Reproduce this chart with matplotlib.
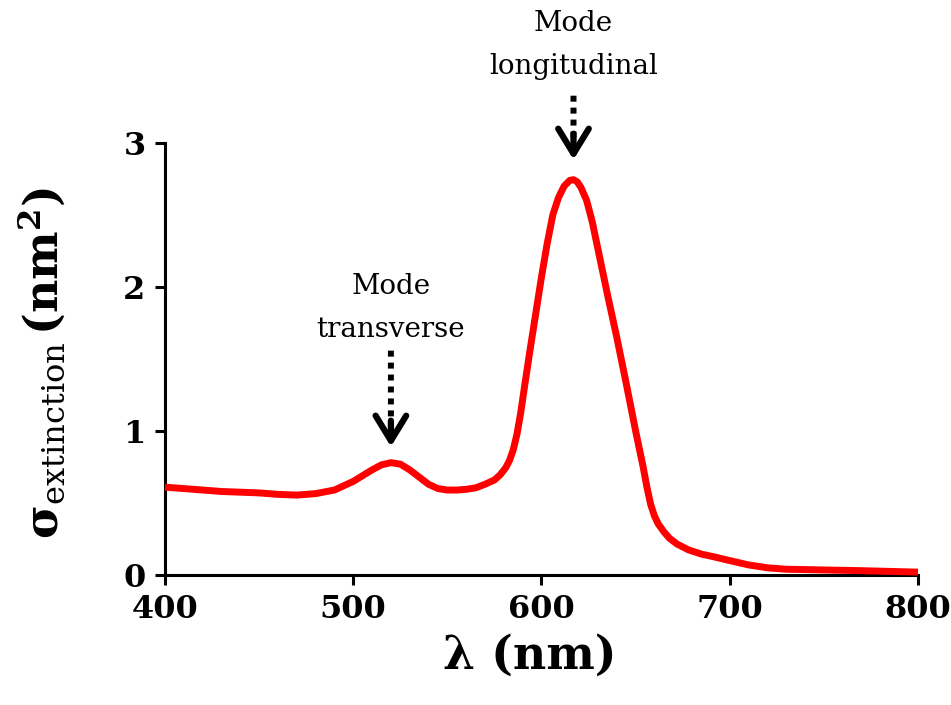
import numpy as np
import matplotlib
matplotlib.use("Agg")
import matplotlib.pyplot as plt
from matplotlib.transforms import offset_copy

# Data
wavelength = [400, 410, 420, 430, 440, 450, 460, 470, 480, 490, 500, 505, 510, 515,
              520, 525, 530, 535, 540, 545, 550, 555, 560, 565, 570, 575, 578, 581,
              583, 585, 587, 589, 591, 594, 597, 600, 603, 606, 609, 612, 615, 617,
              619, 621, 624, 627, 631, 635, 640, 645, 650, 654, 656, 658, 660, 662,
              665, 668, 672, 678, 685, 692, 700, 710, 720, 730, 750, 770, 800]
sigma_ext = [0.61, 0.60, 0.59, 0.58, 0.575, 0.57, 0.56, 0.555, 0.565, 0.59, 0.65, 0.69,
             0.73, 0.765, 0.78, 0.77, 0.73, 0.68, 0.63, 0.60, 0.59, 0.59, 0.595, 0.605,
             0.63, 0.66, 0.695, 0.745, 0.795, 0.87, 0.98, 1.13, 1.31, 1.57, 1.82, 2.07,
             2.30, 2.50, 2.62, 2.70, 2.74, 2.745, 2.73, 2.69, 2.60, 2.45, 2.20, 1.95,
             1.65, 1.33, 1.00, 0.75, 0.61, 0.49, 0.41, 0.355, 0.30, 0.255, 0.215, 0.175,
             0.145, 0.125, 0.10, 0.07, 0.05, 0.04, 0.035, 0.03, 0.02]
x_ticks = [400, 500, 600, 700, 800]
y_ticks = [0, 1, 2, 3]
annot_labels = ["Mode\ntransverse", "Mode\nlongitudinal"]

plt.rcParams['font.family'] = ['DejaVu Serif']
plt.rcParams['mathtext.fontset'] = 'dejavuserif'

fig = plt.figure(figsize=(9.51, 7.05), dpi=100)
ax = fig.add_axes([0.1735, 0.1844, 0.7918, 0.6128])

ax.plot(wavelength, sigma_ext, color='#ff0000', lw=5, solid_capstyle='butt',
        solid_joinstyle='round', clip_on=False, zorder=3)

ax.set_xlim(400, 800)
ax.set_ylim(0, 3)
ax.set_xticks(x_ticks)
ax.set_yticks(y_ticks)
for s in ['top', 'right']:
    ax.spines[s].set_visible(False)
for s in ['left', 'bottom']:
    ax.spines[s].set_linewidth(2.2)
ax.tick_params(direction='out', length=7, width=2.2, labelsize=23, pad=7)
for lab in ax.get_xticklabels() + ax.get_yticklabels():
    lab.set_fontweight('bold')

ax.set_xlabel('λ (nm)', fontsize=33, fontweight='bold')
ax.xaxis.set_label_coords(0.485, -0.133)
ax.set_ylabel(r'$\mathbf{\sigma}_{\mathrm{extinction}}\,\mathbf{(nm^2)}$', fontsize=33)
ax.yaxis.set_label_coords(-0.129, 0.49)

# Annotations at the two peaks
wl = np.array(wavelength)
sg = np.array(sigma_ext)
m1 = (wl > 500) & (wl < 560)
i1 = np.argmax(np.where(m1, sg, -1))
i2 = np.argmax(sg)
peaks = [(wl[i1], sg[i1]), (wl[i2], sg[i2])]
# pixel offsets above each peak: (tip, chevron top, dotted top, text bottom)
offsets = [(16, 42, 112, 120), (20, 46, 84, 100)]

for (px, py), txt, (tip, chev, dtop, tbot) in zip(peaks, annot_labels, offsets):
    ax.annotate(txt, xy=(px, py), xytext=(0, tbot), textcoords='offset pixels',
                ha='center', va='bottom', fontsize=20, linespacing=1.75,
                annotation_clip=False)
    # dotted shaft
    t_lo = offset_copy(ax.transData, fig=fig, x=0, y=chev - 6, units='dots')
    t_hi = offset_copy(ax.transData, fig=fig, x=0, y=dtop, units='dots')
    ax.annotate('', xy=(px, py), xycoords=t_lo, xytext=(px, py), textcoords=t_hi,
                arrowprops=dict(arrowstyle='-', linestyle=(0, (1, 1)), lw=4.3,
                                color='black', shrinkA=0, shrinkB=0,
                                capstyle='butt'),
                annotation_clip=False)
    # chevron head
    t_tip = offset_copy(ax.transData, fig=fig, x=0, y=tip, units='dots')
    t_top = offset_copy(ax.transData, fig=fig, x=0, y=chev, units='dots')
    ax.annotate('', xy=(px, py), xycoords=t_tip, xytext=(px, py), textcoords=t_top,
                arrowprops=dict(arrowstyle='->,head_length=0.9,head_width=0.55',
                                lw=4.5, color='black', shrinkA=0, shrinkB=0,
                                mutation_scale=20),
                annotation_clip=False)

fig.savefig('out.png', dpi=100)
